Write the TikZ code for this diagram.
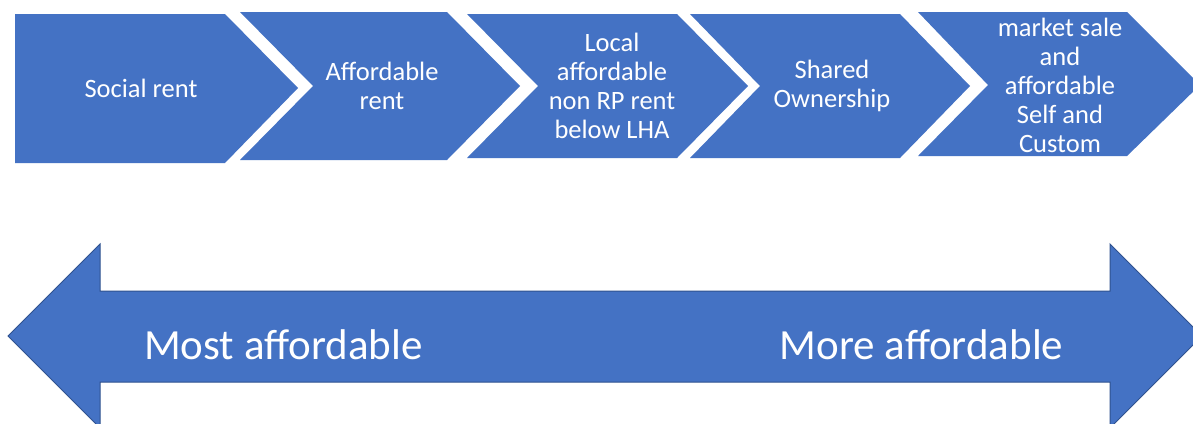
\documentclass[tikz,border=0pt]{standalone}
\usepackage{fontspec}
\setmainfont{Carlito}
\definecolor{chevblue}{HTML}{4472C4}
\definecolor{edgeblue}{HTML}{2F528F}
\begin{document}
\begin{tikzpicture}[x=1pt,y=-1pt,
  chevshape/.style={fill=chevblue,draw=none},
  arrowshape/.style={fill=chevblue,draw=edgeblue,line width=1pt,line join=miter},
  chevtext/.style={text=white,align=center,font=\fontsize{26.5}{29}\selectfont,inner sep=0pt},
  bigtext/.style={text=white,font=\fontsize{43}{48}\selectfont,inner sep=0pt}]
\useasboundingbox (0,0) rectangle (1193,423);
\clip (0,0) rectangle (1193,423);
\fill[white] (0,0) rectangle (1193,423);
% chevrons
\path[chevshape] (15,14) -- (225,14) -- (298,88) -- (225,163) -- (15,163) -- cycle;
\path[chevshape] (240,12) -- (447,12) -- (520,86) -- (447,160) -- (240,160) -- (313,86) -- cycle;
\path[chevshape] (467,14) -- (677,14) -- (748,86) -- (677,158) -- (467,158) -- (538,86) -- cycle;
\path[chevshape] (690,14) -- (900,14) -- (970,86) -- (900,158) -- (690,158) -- (760,86) -- cycle;
\path[chevshape] (918,12) -- (1127,12) -- (1200,85) -- (1127,156) -- (918,156) -- (988,85) -- cycle;
\node[chevtext] (t1) at (141,88) {Social rent};
\node[chevtext] (t2) at (382,86) {Affordable\\rent};
\node[chevtext] (t3) at (612,86) {Local\\affordable\\non RP rent\\below LHA};
\node[chevtext] (t4) at (832,86) {Shared\\Ownership};
\node[chevtext] (t5) at (1060,85) {market sale\\and\\affordable\\Self and\\Custom};
% double arrow
\path[arrowshape] (8,336) -- (100,244) -- (100,291) -- (1110,291) -- (1110,244) -- (1202,336)
  -- (1110,428) -- (1110,382) -- (100,382) -- (100,428) -- cycle;
\node[bigtext] (most) at (283.5,345) {Most affordable};
\node[bigtext] (more) at (921.5,345) {More affordable};
\end{tikzpicture}
\end{document}
